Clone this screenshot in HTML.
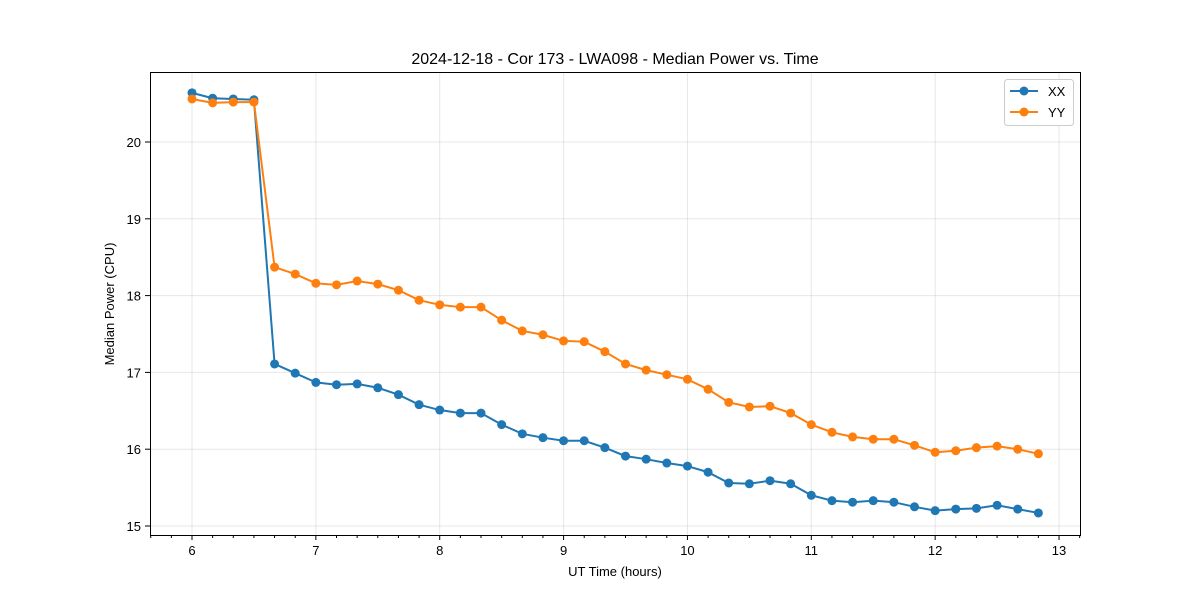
<!DOCTYPE html>
<html><head><meta charset="utf-8"><style>
body{margin:0;background:#fff;}
text{font-family:"Liberation Sans","DejaVu Sans",sans-serif;fill:#000;}
</style></head><body>
<svg id="chart" width="1200" height="600" xmlns="http://www.w3.org/2000/svg">
<rect width="1200" height="600" fill="#fff"/>
<g id="grid"></g>
<g id="axes"></g>
<g id="series"></g>
<rect x="150.5" y="72.5" width="930" height="463" fill="none" stroke="#000" stroke-width="1"/>
<text x="615" y="64" font-size="16" text-anchor="middle">2024-12-18 - Cor 173 - LWA098 - Median Power vs. Time</text>
<text x="615" y="576" font-size="13" text-anchor="middle">UT Time (hours)</text>
<text transform="translate(114,304) rotate(-90)" font-size="13" text-anchor="middle">Median Power (CPU)</text>
<g>
<rect x="1004.5" y="79.5" width="69" height="46" rx="3" fill="#fff" stroke="#ccc"/>
<line x1="1010" y1="91" x2="1038" y2="91" stroke="#1f77b4" stroke-width="2"/>
<circle cx="1024" cy="91" r="4.5" fill="#1f77b4"/>
<text x="1048" y="96" font-size="13">XX</text>
<line x1="1010" y1="112" x2="1038" y2="112" stroke="#ff7f0e" stroke-width="2"/>
<circle cx="1024" cy="112" r="4.5" fill="#ff7f0e"/>
<text x="1048" y="117" font-size="13">YY</text>
</g>
</svg>
<script>
const times = [6,6.1667,6.3333,6.5,6.6667,6.8333,7,7.1667,7.3333,7.5,7.6667,7.8333,8,8.1667,8.3333,8.5,8.6667,8.8333,9,9.1667,9.3333,9.5,9.6667,9.8333,10,10.1667,10.3333,10.5,10.6667,10.8333,11,11.1667,11.3333,11.5,11.6667,11.8333,12,12.1667,12.3333,12.5,12.6667,12.8333];
const xxValues = [20.64,20.57,20.56,20.55,17.11,16.99,16.87,16.84,16.85,16.80,16.71,16.58,16.51,16.47,16.47,16.32,16.20,16.15,16.11,16.11,16.02,15.91,15.87,15.82,15.78,15.70,15.56,15.55,15.59,15.55,15.40,15.33,15.31,15.33,15.31,15.25,15.20,15.22,15.23,15.27,15.22,15.17];
const yyValues = [20.56,20.51,20.52,20.52,18.37,18.28,18.16,18.14,18.19,18.15,18.07,17.94,17.88,17.85,17.85,17.68,17.54,17.49,17.41,17.40,17.27,17.11,17.03,16.97,16.91,16.78,16.61,16.55,16.56,16.47,16.32,16.22,16.16,16.13,16.13,16.05,15.96,15.98,16.02,16.04,16.00,15.94];
const xTicks = [6,7,8,9,10,11,12,13];
const yTicks = [15,16,17,18,19,20];
const NS="http://www.w3.org/2000/svg";
function xs(v){return 192+(v-6)*123.86;}
function ys(v){return 526-(v-15)*76.8;}
function mk(tag,attrs,parent){const e=document.createElementNS(NS,tag);for(const k in attrs)e.setAttribute(k,attrs[k]);parent.appendChild(e);return e;}
const grid=document.getElementById('grid'),axes=document.getElementById('axes'),series=document.getElementById('series');
xTicks.forEach(t=>{const x=xs(t);
 const g=mk('line',{x1:x,x2:x,y1:72,y2:535,stroke:'#b0b0b0','stroke-opacity':0.3},grid);
 
 const tk=mk('line',{x1:x,x2:x,y1:535,y2:540,stroke:'#000'},axes);
 
 const tx=mk('text',{x:x,y:555,'font-size':13,'text-anchor':'middle'},axes);tx.textContent=t;
 
});
for(let k=-2;k<=44;k++){if(k%6===0)continue;const x=xs(6+k/6);if(x<150||x>1080)continue;
 const tk=mk('line',{x1:x,x2:x,y1:535,y2:538,stroke:'#000'},axes);
 }
yTicks.forEach(t=>{const y=ys(t);
 const g=mk('line',{x1:150,x2:1080,y1:y,y2:y,stroke:'#b0b0b0','stroke-opacity':0.3},grid);
 
 const tk=mk('line',{x1:145,x2:150,y1:y,y2:y,stroke:'#000'},axes);
 
 const tx=mk('text',{x:141,y:y+5,'font-size':13,'text-anchor':'end'},axes);tx.textContent=t;
 
});
function draw(vals,color,name){
 const pts=times.map((t,i)=>xs(t)+','+ys(vals[i])).join(' ');
 const pl=mk('polyline',{points:pts,fill:'none',stroke:color,'stroke-width':2},series);
 
 times.forEach((t,i)=>{const c=mk('circle',{cx:xs(t),cy:ys(vals[i]),r:4.5,fill:color},series);
  });
}
draw(xxValues,'#1f77b4','xx');
draw(yyValues,'#ff7f0e','yy');
</script>
</body></html>
